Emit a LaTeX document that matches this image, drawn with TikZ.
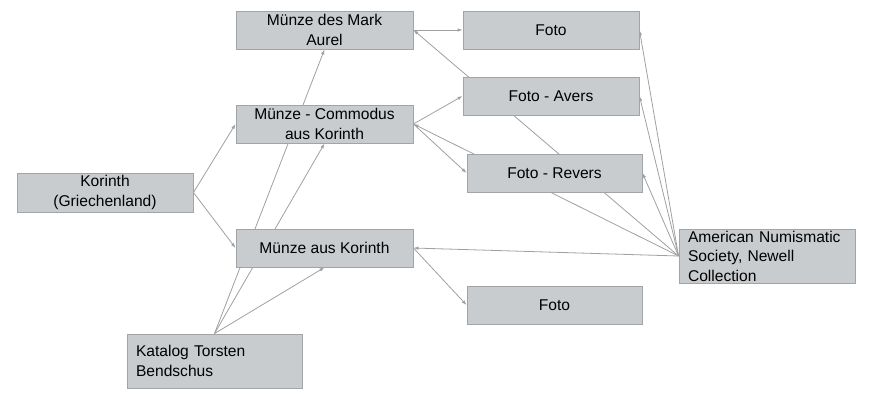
\documentclass[tikz,border=0pt]{standalone}
\usepackage{fontspec}
\setmainfont{Liberation Sans}
\usetikzlibrary{arrows.meta,backgrounds}
\definecolor{boxfill}{HTML}{C9CCCF}
\definecolor{boxline}{HTML}{A2A5A7}
\definecolor{edgecol}{HTML}{A0A0A0}
\definecolor{txt}{HTML}{000000}
\begin{document}
\begin{tikzpicture}[x=1pt,y=-1pt,
  box/.style={draw=boxline,fill=boxfill,line width=0.9pt,rectangle,inner sep=0pt,
    align=center,text=txt,font=\fontsize{15.6}{19.5}\selectfont},
  lbox/.style={box,align=left,inner xsep=9pt,text width=#1},
  conn/.style={draw=edgecol,line width=0.8pt,-{Latex[length=5pt,width=3.5pt]}}]
\useasboundingbox (0,0) rectangle (879,416);
\node[box,minimum width=177pt,minimum height=38pt] (ma) at (324.5,30) {Münze des Mark\\Aurel};
\node[box,minimum width=177pt,minimum height=38pt] (mc) at (324.5,124) {Münze - Commodus\\aus Korinth};
\node[box,minimum width=176pt,minimum height=39pt] (k) at (105,192.5) {Korinth\\(Griechenland)};
\node[box,minimum width=177pt,minimum height=38pt] (mk) at (324.5,248) {Münze aus Korinth};
\node[lbox=157pt,minimum height=54pt] (kt) at (214.5,361) {Katalog Torsten\\Bendschus};
\node[box,minimum width=176pt,minimum height=38pt] (f1) at (551,30) {Foto};
\node[box,minimum width=176pt,minimum height=38pt] (fa) at (551,96) {Foto - Avers};
\node[box,minimum width=175pt,minimum height=38pt] (fr) at (554.5,173) {Foto - Revers};
\node[box,minimum width=175pt,minimum height=38pt] (f2) at (554.5,305) {Foto};
\node[lbox=158pt,minimum height=54pt] (ans) at (767,256) {American Numismatic\\Society, Newell\\Collection};
\begin{scope}[on background layer]
\draw[conn] (k.east) -- (mc.west);
\draw[conn] (k.east) -- (mk.west);
\draw[conn] (kt.north) -- (ma.south);
\draw[conn] (kt.north) -- (mc.south);
\draw[conn] (kt.north) -- (mk.south);
\draw[conn] (ma.east) -- (f1.west);
\draw[conn] (mc.east) -- (fa.west);
\draw[conn] (mc.east) -- (fr.west);
\draw[conn] (mk.east) -- (f2.west);
\draw[conn] (ans.west) -- (ma.east);
\draw[conn] (ans.west) -- (mc.east);
\draw[conn] (ans.west) -- (mk.east);
\draw[conn] (ans.west) -- (f1.east);
\draw[conn] (ans.west) -- (fa.east);
\draw[conn] (ans.west) -- (fr.east);
\end{scope}
\end{tikzpicture}
\end{document}
